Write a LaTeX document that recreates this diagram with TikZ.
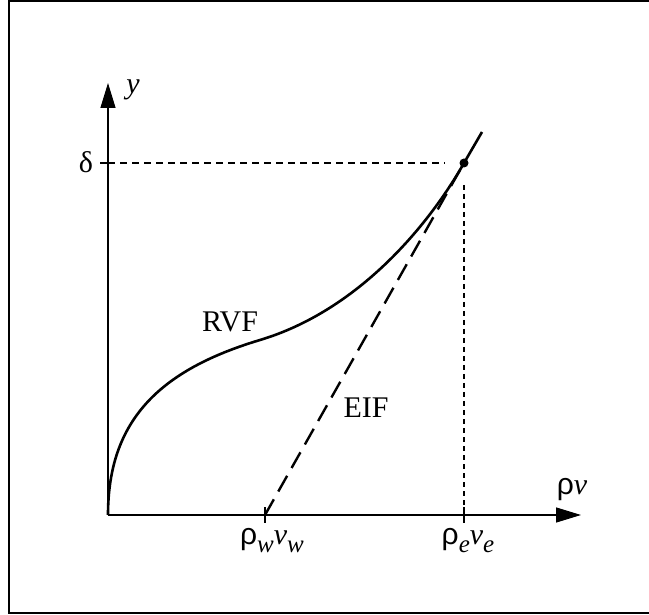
\documentclass[tikz,border=0pt]{standalone}
\usepackage{fontspec}
\setmainfont{Liberation Serif}
\newfontfamily\rhofont{Liberation Sans}
\usetikzlibrary{arrows.meta}
\tikzset{
  axis/.style={line width=1.3pt,-{Triangle[length=25pt,width=15pt]}},
  lbl/.style={font=\fontsize{30}{34}\selectfont,inner sep=1pt},
  hguide/.style={line width=1.1pt,dash pattern=on 7pt off 5pt},
  vguide/.style={line width=2.2pt,dash pattern=on 5pt off 4pt},
  eif/.style={line width=2.4pt,dash pattern=on 18pt off 9pt},
}
\newcommand{\rh}{{\rhofont ρ}}
\newcommand{\sbt}[1]{\raisebox{-8pt}{\fontsize{25}{27}\selectfont\textit{#1}}}
\begin{document}
\begin{tikzpicture}[x=1pt,y=-1pt]
        \useasboundingbox (0,0) rectangle (649,615);
        \draw[line width=2pt] (9,1) rectangle (652,613);
        \coordinate (O) at (108,515);
        \coordinate (ymax) at (108,83);
        \coordinate (xmax) at (581,515);
        \coordinate (wall) at (265,515);
        \coordinate (edge) at (464,515);
        \coordinate (yd) at (108,163);
        \coordinate (P) at (464,163);
        \coordinate (top) at (482,132);
        \draw[axis] (O)--(ymax);
        \draw[axis] (O)--(xmax);
        \draw[line width=1.3pt] ([xshift=-8pt]yd)--(yd);
        \draw[line width=1.3pt] ([yshift=8pt]wall)--([yshift=-8pt]wall);
        \draw[line width=1.3pt] ([yshift=8pt]edge)--([yshift=-8pt]edge);
        \draw[hguide] (yd)--([xshift=-19pt]P);
        \draw[vguide] ([yshift=-22pt]P)--(edge);
        \draw[eif] (wall)--(P);
        \draw[line width=2.6pt] (O) .. controls (108,420) and (160,370) .. (260,340)
            .. controls (360,310) and (430,223) .. (P)--(top);
        \fill (P) circle (4.5pt);
        \node[lbl] (delta) at (86,162) {δ};
        \node[lbl] (ylab) at (133,90) {\textit{y}};
        \node[lbl] (xlab) at (572,490) {\rh\textit{v}};
        \node[lbl,anchor=north] (wlab) at (272,527) {\rh\sbt{w}\textit{v}\sbt{w}};
        \node[lbl,anchor=north] (elab) at (468,527) {\rh\sbt{e}\textit{v}\sbt{e}};
        \node[lbl] (rvf) at (230,322) {RVF};
        \node[lbl] (eiflab) at (366,408) {EIF};
    \end{tikzpicture}
\end{document}
